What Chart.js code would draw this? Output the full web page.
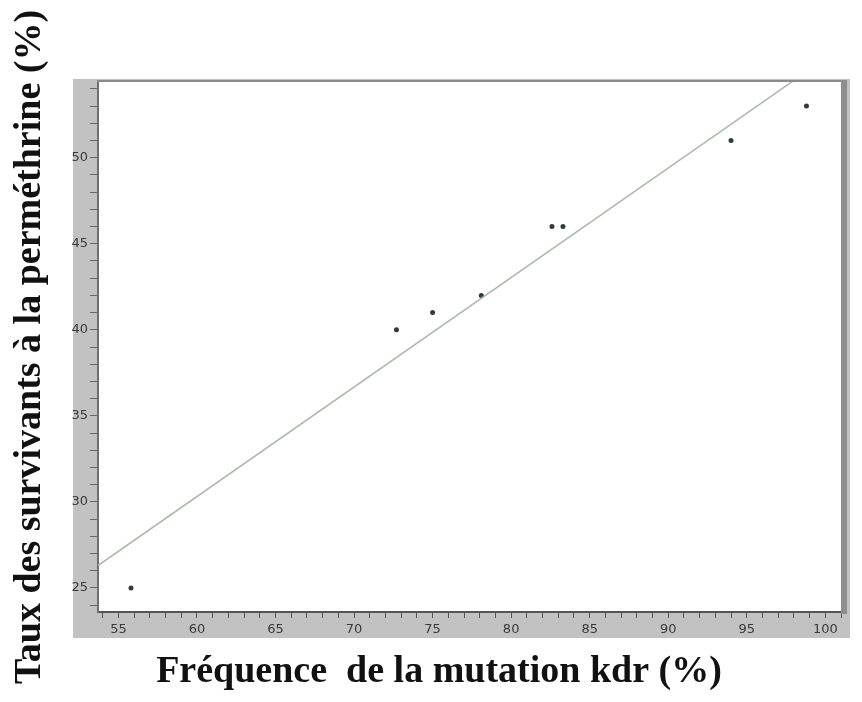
<!DOCTYPE html>
<html>
<head>
<meta charset="utf-8">
<script src="https://cdn.jsdelivr.net/npm/chart.js@4.4.1/dist/chart.umd.min.js"></script>
<style>
    html, body { margin: 0; padding: 0; background: #ffffff; }
    #caixa { width: 862px; height: 702px; }
</style>
</head>
<body>
<div id="caixa"><canvas id="grafico_kdr"></canvas></div>
<script>
let frequenciaKdr = [55.8, 72.7, 75, 78.1, 82.6, 83.3, 94, 98.8];
let taxaSobreviventes = [25, 40, 41, 42, 46, 46, 51, 53];

// droite de regression
let retaX = [53.7, 101];
let retaY = [26.3, 56.4];

let rotulosX = [55, 60, 65, 70, 75, 80, 85, 90, 95, 100];
let rotulosY = [25, 30, 35, 40, 45, 50];

let tituloX = "Fréquence  de la mutation kdr (%)";
let tituloY = "Taux des survivants à la perméthrine (%)";

let pontos = [];
for (let i = 0; i < frequenciaKdr.length; i++) {
    pontos.push({ x: frequenciaKdr[i], y: taxaSobreviventes[i] });
}

let reta = [];
for (let i = 0; i < retaX.length; i++) {
    reta.push({ x: retaX[i], y: retaY[i] });
}

let fundoCinza = {
    id: "fundoCinza",
    beforeDraw: function (chart) {
        let ctx = chart.ctx;
        let area = chart.chartArea;
        ctx.save();
        ctx.fillStyle = "#c2c2c2";
        ctx.fillRect(73, 79, 777, 559);
        ctx.fillStyle = "#ffffff";
        ctx.fillRect(area.left, area.top, area.right - area.left, area.bottom - area.top);
        ctx.restore();
    },
    afterDraw: function (chart) {
        let ctx = chart.ctx;
        let area = chart.chartArea;
        ctx.save();
        ctx.fillStyle = "#8a8a8a";
        ctx.fillRect(area.left - 1, area.top - 2, area.right - area.left + 1, 2);
        ctx.fillStyle = "#8e8e8e";
        ctx.fillRect(area.right, area.top - 2, 6, area.bottom - area.top + 4);

        ctx.fillStyle = "#111111";
        ctx.font = "bold 38px 'Liberation Serif'";
        ctx.textAlign = "center";
        ctx.textBaseline = "middle";
        ctx.fillText(tituloX, 439, 672);
        ctx.restore();
    }
};

let ctxGrafico = document.getElementById("grafico_kdr");

let grafico = new Chart(ctxGrafico, {
    type: "scatter",
    data: {
        datasets: [
            {
                label: "Droite",
                data: reta,
                showLine: true,
                borderColor: "#a9baa9",
                borderWidth: 1.5,
                pointRadius: 0
            },
            {
                label: "Populations",
                data: pontos,
                backgroundColor: "#2e3d38",
                borderWidth: 0,
                pointRadius: 2.5
            }
        ]
    },
    options: {
        responsive: true,
        maintainAspectRatio: false,
        animation: false,
        layout: {
            padding: { left: 0, top: 82, right: 21, bottom: 0 }
        },
        plugins: {
            legend: { display: false },
            tooltip: { enabled: false }
        },
        scales: {
            x: {
                type: "linear",
                min: 53.7,
                max: 101,
                afterFit: function (escala) {
                    escala.height = 90;
                },
                border: { display: true, color: "#555555", width: 2 },
                grid: {
                    drawOnChartArea: false,
                    drawTicks: true,
                    tickLength: 6,
                    color: "#555555"
                },
                ticks: {
                    stepSize: 1,
                    includeBounds: false,
                    autoSkip: false,
                    maxRotation: 0,
                    padding: 4,
                    color: "#3a3a3a",
                    font: { family: "'DejaVu Sans'", size: 13 },
                    callback: function (valor) {
                        if (rotulosX.includes(valor)) {
                            return valor;
                        }
                        return "";
                    }
                }
            },
            y: {
                type: "linear",
                min: 23.6,
                max: 54.4,
                afterFit: function (escala) {
                    escala.width = 98;
                },
                border: { display: true, color: "#6e6e6e", width: 2 },
                grid: {
                    drawOnChartArea: false,
                    drawTicks: true,
                    tickLength: 8,
                    color: "#666666"
                },
                title: {
                    display: true,
                    text: tituloY,
                    color: "#111111",
                    font: { family: "'Liberation Serif'", size: 38, weight: "bold" },
                    padding: { top: 7, bottom: 0 }
                },
                ticks: {
                    stepSize: 1,
                    includeBounds: false,
                    autoSkip: false,
                    padding: 2,
                    color: "#3a3a3a",
                    font: { family: "'DejaVu Sans'", size: 13 },
                    callback: function (valor) {
                        if (rotulosY.includes(valor)) {
                            return valor;
                        }
                        return "";
                    }
                }
            }
        }
    },
    plugins: [fundoCinza]
});
</script>
</body>
</html>
